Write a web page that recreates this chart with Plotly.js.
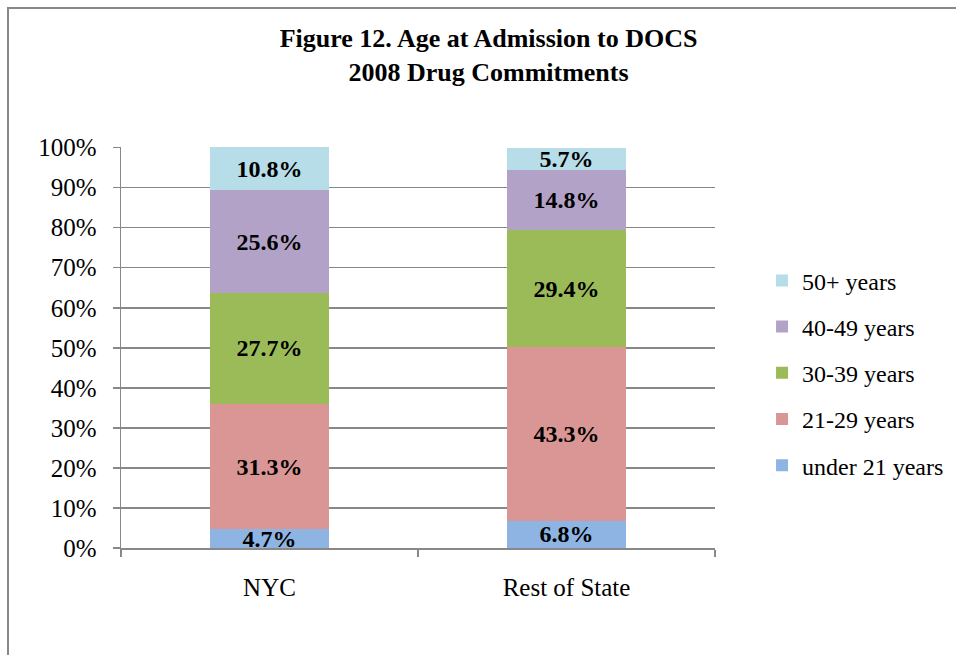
<!DOCTYPE html>
<html><head><meta charset="utf-8">
<script src="https://cdn.plot.ly/plotly-3.0.1.min.js"></script>
<style>html,body{margin:0;padding:0;background:#fff;}#chart{width:956px;height:655px;}</style>
</head><body><div id="chart"></div>
<script>
const categories = ["NYC", "Rest of State"];
const seriesNames = ["under 21 years", "21-29 years", "30-39 years", "40-49 years", "50+ years"];
const under21 = [4.7, 6.8];
const age21to29 = [31.3, 43.3];
const age30to39 = [27.7, 29.4];
const age40to49 = [25.6, 14.8];
const age50plus = [10.8, 5.7];
const colors = ["#8eb4e3", "#d99694", "#9bbb59", "#b3a2c7", "#b7dde8"];
const yTickVals = [0,10,20,30,40,50,60,70,80,90,100];
const yTickText = ["0%","10%","20%","30%","40%","50%","60%","70%","80%","90%","100%"];

const serif = "Liberation Serif, Times New Roman, serif";
const allSeries = [under21, age21to29, age30to39, age40to49, age50plus];
const traces = allSeries.map((vals, i) => ({
  type: "bar",
  name: seriesNames[i],
  x: categories,
  y: vals,
  marker: {color: colors[i]},
  text: vals.map(v => "<b>" + v.toFixed(1) + "%</b>"),
  textposition: "inside",
  insidetextanchor: "middle",
  textangle: 0,
  constraintext: "none",
  textfont: {family: serif, size: 24, color: "#000"},
  cliponaxis: false,
  legendgroup: "g" + i,
  legendrank: 100 - i,
  hoverinfo: "none"
}));

const layout = {
  width: 956, height: 655,
  margin: {l: 121, r: 241, t: 147, b: 107, autoexpand: false},
  paper_bgcolor: "#fff", plot_bgcolor: "#fff",
  barmode: "stack",
  bargap: 0.6,
  font: {family: serif, size: 24, color: "#000"},
  title: {
    text: "<b>Figure 12. Age at Admission to DOCS<br>2008 Drug Commitments</b>",
    font: {family: serif, size: 26, color: "#000"},
    x: 0.511, xref: "container", xanchor: "center",
    y: 0.928, yref: "container", yanchor: "middle"
  },
  xaxis: {
    type: "category",
    showline: true, linecolor: "#888", linewidth: 1.5,
    ticks: "outside", tickson: "boundaries", ticklen: 7, tickcolor: "#888", tickwidth: 1.5,
    ticklabelstandoff: 16,
    tickfont: {family: serif, size: 25, color: "#000"},
    showgrid: false, fixedrange: true
  },
  yaxis: {
    range: [0, 100.15],
    tickvals: yTickVals, ticktext: yTickText,
    showline: true, linecolor: "#888", linewidth: 1.5,
    ticks: "outside", ticklen: 7, tickcolor: "#888", tickwidth: 1.5,
    showgrid: true, gridcolor: "#888", gridwidth: 1.5,
    zeroline: false,
    tickfont: {family: serif, size: 25, color: "#000"},
    ticklabelstandoff: 11,
    fixedrange: true
  },
  legend: {
    x: 1.0792, xanchor: "left",
    y: 0.7225, yanchor: "top",
    traceorder: "grouped",
    tracegroupgap: 12,
    font: {family: serif, size: 24, color: "#000"},
    itemwidth: 30,
    bgcolor: "rgba(0,0,0,0)"
  },
  shapes: [{
    type: "rect", xref: "paper", yref: "paper",
    x0: (8 - 121) / 594, x1: 3, y0: -2, y1: (548 - 8) / 401,
    line: {color: "#888", width: 2}, fillcolor: "rgba(0,0,0,0)", layer: "below"
  }]
};

Plotly.newPlot("chart", traces, layout, {displayModeBar: false, staticPlot: true});
</script></body></html>
